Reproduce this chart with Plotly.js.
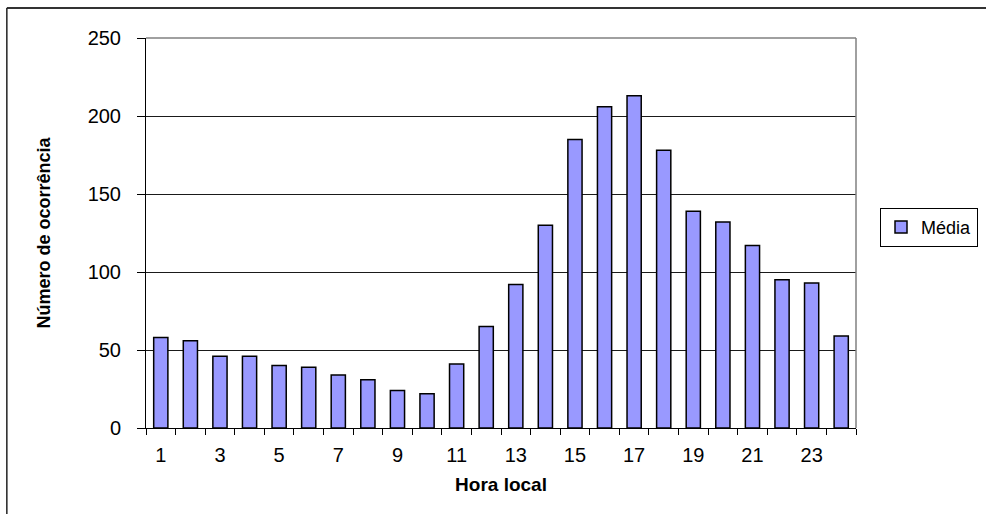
<!DOCTYPE html>
<html>
<head>
<meta charset="utf-8">
<script src="https://cdn.plot.ly/plotly-3.0.1.min.js"></script>
<style>
  html, body { margin: 0; padding: 0; background: #fff; }
  #chart { width: 986px; height: 514px; }
</style>
</head>
<body>
<div id="chart"></div>
<script>
// Data
var hours = [1, 2, 3, 4, 5, 6, 7, 8, 9, 10, 11, 12, 13, 14, 15, 16, 17, 18, 19, 20, 21, 22, 23, 24];
var media = [58, 56, 46, 46, 40, 39, 34, 31, 24, 22, 41, 65, 92, 130, 185, 206, 213, 178, 139, 132, 117, 95, 93, 59];
var xTickVals = [1, 3, 5, 7, 9, 11, 13, 15, 17, 19, 21, 23];
var yTickVals = [0, 50, 100, 150, 200, 250];
var seriesName = 'Média';
var xTitle = 'Hora local';
var yTitle = 'Número de ocorrência';

var font = 'Liberation Sans, Arial, sans-serif';

var trace = {
  type: 'bar',
  x: hours,
  y: media,
  name: seriesName,
  marker: { color: '#9999FF', line: { color: '#000000', width: 1.5 } },
  showlegend: true
};

var layout = {
  width: 986,
  height: 514,
  margin: { l: 146, r: 130, t: 38, b: 86 },
  paper_bgcolor: '#ffffff',
  plot_bgcolor: '#ffffff',
  bargap: 0.52,
  font: { family: font, color: '#000000', size: 20 },
  showlegend: true,
  legend: {
    xref: 'container', yref: 'container',
    x: 0.8925, xanchor: 'left',
    y: 0.558, yanchor: 'middle',
    bgcolor: '#ffffff',
    bordercolor: '#000000',
    borderwidth: 1,
    itemwidth: 30,
    font: { family: font, size: 18, color: '#000000' }
  },
  xaxis: {
    type: 'linear',
    range: [0.5, 24.5],
    tickmode: 'array',
    tickvals: xTickVals,
    ticks: '',
    showgrid: false,
    zeroline: false,
    showline: true,
    linecolor: '#000000',
    linewidth: 1,
    automargin: false,
    ticklabelstandoff: 9,
    tickfont: { family: font, size: 20, color: '#000000' },
    minor: { ticks: 'outside', tickmode: 'linear', tick0: 0.5, dtick: 1, ticklen: 6, tickcolor: '#000000', tickwidth: 1, showgrid: false },
    title: { text: xTitle, font: { family: font, size: 19, color: '#000000', weight: 'bold' }, standoff: 12 }
  },
  yaxis: {
    range: [0, 250],
    tickmode: 'array',
    tickvals: yTickVals,
    ticks: 'outside',
    ticklen: 8,
    tickcolor: '#000000',
    showgrid: true,
    gridcolor: '#1a1a1a',
    gridwidth: 1,
    zeroline: false,
    showline: true,
    linecolor: '#000000',
    linewidth: 1,
    automargin: false,
    ticklabelstandoff: 12,
    tickfont: { family: font, size: 20, color: '#000000' },
    title: { text: yTitle, font: { family: font, size: 18, color: '#000000', weight: 'bold' }, standoff: 32 }
  },
  shapes: [
    // plot area top and right border (gray)
    { type: 'line', xref: 'paper', yref: 'paper', x0: 0, x1: 1, y0: 1, y1: 1, line: { color: '#808080', width: 1.5 }, layer: 'above' },
    { type: 'line', xref: 'paper', yref: 'paper', x0: 1, x1: 1, y0: 0, y1: 1, line: { color: '#808080', width: 1.5 }, layer: 'above' },
    // outer chart frame (left and top visible)
    { type: 'line', xref: 'paper', yref: 'paper', x0: -0.196, x1: 1.5, y0: 1.077, y1: 1.077, line: { color: '#333333', width: 2 }, layer: 'above' },
    { type: 'line', xref: 'paper', yref: 'paper', x0: -0.196, x1: -0.196, y0: -0.3, y1: 1.077, line: { color: '#222222', width: 1.5 }, layer: 'above' }
  ]
};

Plotly.newPlot('chart', [trace], layout, { displayModeBar: false, staticPlot: true });
</script>
</body>
</html>
